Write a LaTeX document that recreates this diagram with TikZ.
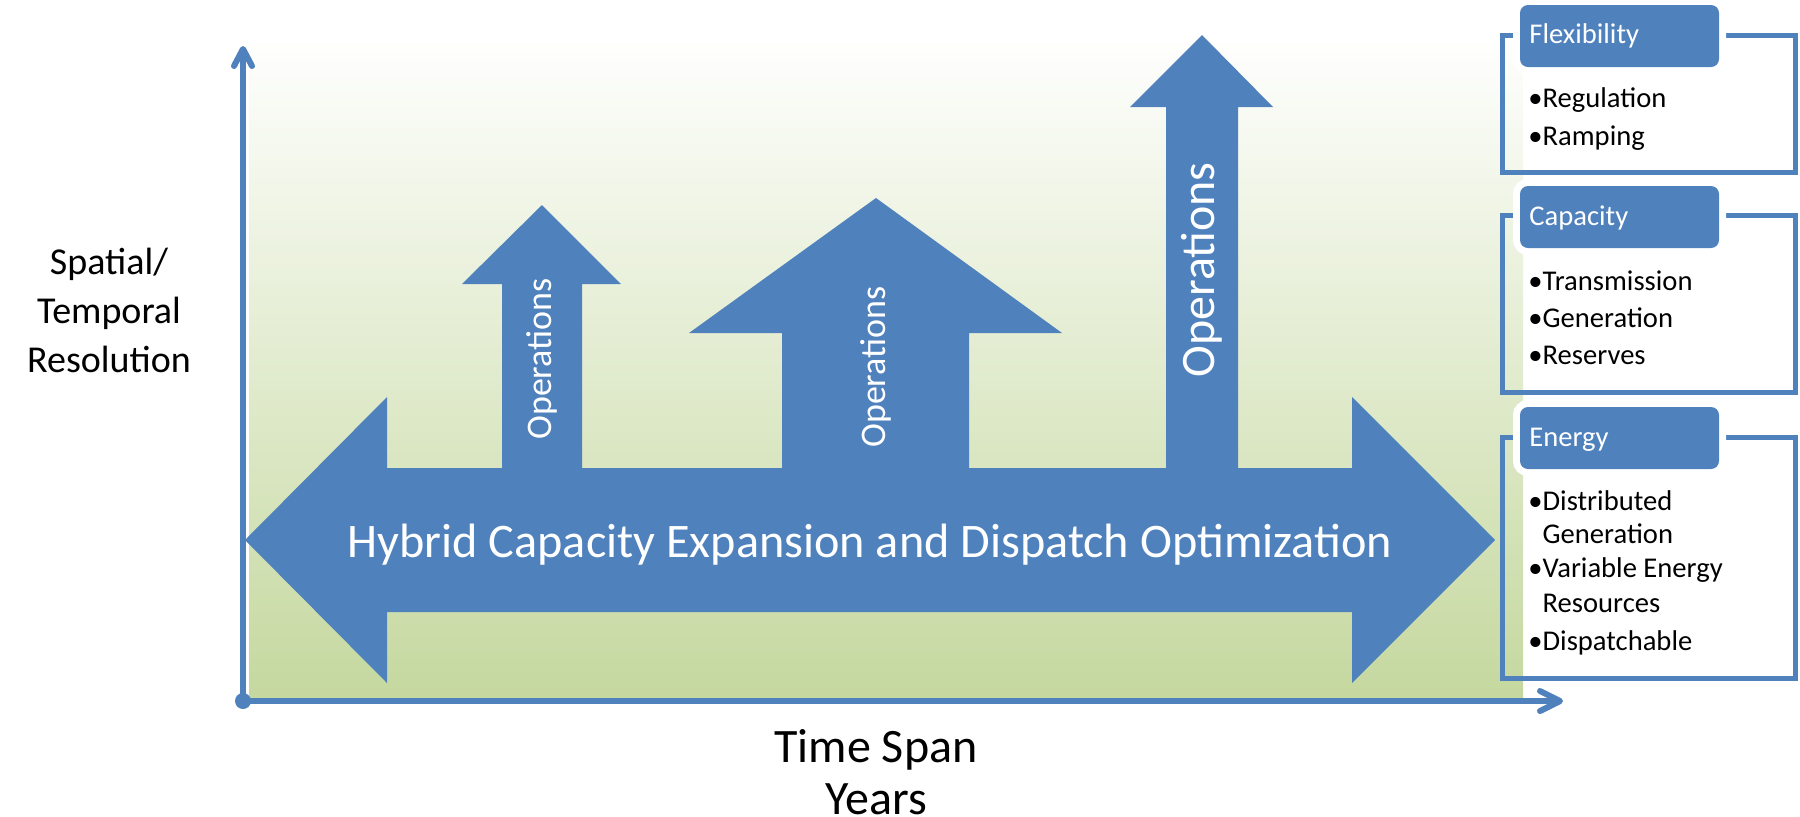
\documentclass[tikz,border=0pt]{standalone}
\usepackage{fontspec}
\setmainfont{Carlito}
\definecolor{ablue}{HTML}{4F81BD}
\definecolor{bggreen}{RGB}{197,216,159}
\tikzset{
  x=0.5pt, y=-0.5pt,
  shapefill/.style={fill=ablue},
  axisline/.style={draw=ablue, line width=3pt},
  chevron/.style={draw=ablue, line width=3pt, line cap=round, line join=round},
  optext/.style={text=white, rotate=90, inner sep=0pt},
  outlinebox/.style={draw=ablue, line width=2.5pt},
  headfill/.style={fill=ablue, rounded corners=4pt},
  headhalo/.style={draw=white, line width=7pt, rounded corners=4pt},
  headtext/.style={text=white, anchor=base west, inner sep=0pt, font=\fontsize{14.3}{17}\selectfont},
  itemtext/.style={text=black, anchor=base west, inner sep=0pt, font=\fontsize{14.3}{17}\selectfont},
}
\begin{document}
\begin{tikzpicture}
\useasboundingbox (0,0) rectangle (1800,816);
% background
\shade[top color=white, bottom color=bggreen] (249,33) rectangle (1523,697);
% fragment of cropped title glyph
\node[anchor=base, inner sep=0pt, font=\fontsize{35}{40}\selectfont] (gfrag) at (1334,-14) {g};
% axes
\coordinate (origin) at (243,701);
\coordinate (ytip) at (243,49);
\coordinate (xtip) at (1560,701);
\draw[axisline] (origin) -- (ytip);
\draw[axisline] (origin) -- (xtip);
\draw[chevron] (234,66) -- (ytip) -- (252,66);
\draw[chevron] (1540,691) -- (xtip) -- (1540,711);
\fill[ablue] (origin) circle (8);
% big double arrow
\fill[shapefill] (245,540) -- (387,397) -- (387,468) -- (1352,468) -- (1352,397) -- (1495,540) -- (1352,683) -- (1352,612) -- (387,612) -- (387,683) -- cycle;
% up arrows
\fill[shapefill] (502,469) -- (502,284) -- (462,284) -- (542,205) -- (621,284) -- (582,284) -- (582,469) -- cycle;
\fill[shapefill] (782,469) -- (782,333) -- (689,333) -- (876,198) -- (1062,333) -- (969,333) -- (969,469) -- cycle;
\fill[shapefill] (1166,469) -- (1166,107) -- (1130,107) -- (1202,35) -- (1273,107) -- (1238,107) -- (1238,469) -- cycle;
% labels in arrows
\node[optext, font=\fontsize{18}{20}\selectfont] (op1) at (542,359) {Operations};
\node[optext, font=\fontsize{18}{20}\selectfont] (op2) at (876,367) {Operations};
\node[optext, font=\fontsize{24}{26}\selectfont] (op3) at (1202,270) {Operations};
\node[text=white, anchor=base, inner sep=0pt, font=\fontsize{24.1}{28}\selectfont] (title) at (870,557) {Hybrid Capacity Expansion and Dispatch Optimization};
% axis labels
\node[align=center, inner sep=0pt, font=\fontsize{19}{24.5}\selectfont] (ylab) at (109,310) {Spatial/\\Temporal\\Resolution};
\node[align=center, inner sep=0pt, font=\fontsize{24}{26}\selectfont] (xlab) at (876,772) {Time Span\\Years};
% right boxes
\draw[outlinebox] (1502,35) rectangle (1795,172);
\draw[outlinebox] (1502,215) rectangle (1795,392);
\draw[outlinebox] (1502,437) rectangle (1795,678);
\foreach \t in {5,186,407}{
  \draw[headhalo] (1520,\t) rectangle (1719,\t+62);
  \fill[headfill] (1520,\t) rectangle (1719,\t+62);
}
\node[headtext] (hflex) at (1529,43) {Flexibility};
\node[headtext] (hcap) at (1529,225) {Capacity};
\node[headtext] (hen) at (1529,446) {Energy};
\node[itemtext] (f1) at (1528,107) {•Regulation};
\node[itemtext] (f2) at (1528,145) {•Ramping};
\node[itemtext] (c1) at (1528,290) {•Transmission};
\node[itemtext] (c2) at (1528,327) {•Generation};
\node[itemtext] (c3) at (1528,364) {•Reserves};
\node[itemtext] (e1) at (1528,510) {•Distributed};
\node[itemtext] (e1b) at (1528,543) {\phantom{•}Generation};
\node[itemtext] (e2) at (1528,577) {•Variable Energy};
\node[itemtext] (e2b) at (1528,612) {\phantom{•}Resources};
\node[itemtext] (e3) at (1528,650) {•Dispatchable};
\end{tikzpicture}
\end{document}
